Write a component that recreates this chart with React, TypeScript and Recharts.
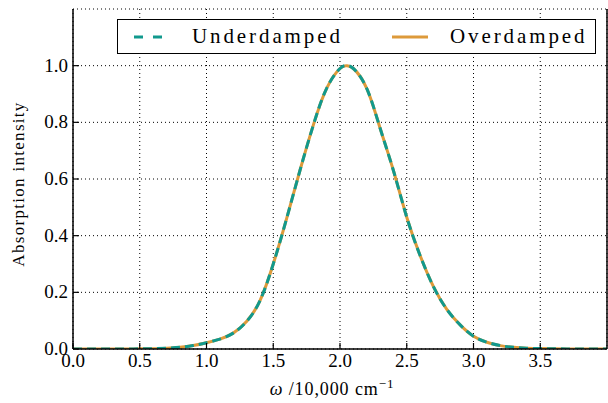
import React from 'react';
import { LineChart, Line, XAxis, YAxis, CartesianGrid } from 'recharts';

// omega in units of 10,000 cm^-1
const omega = [
  0, 0.1, 0.2, 0.3, 0.4, 0.5, 0.6, 0.7, 0.8, 0.9, 1.0, 1.1, 1.2, 1.3, 1.4, 1.5,
  1.6, 1.7, 1.8, 1.9, 2.0, 2.05, 2.1, 2.2, 2.3, 2.4, 2.5, 2.6, 2.7, 2.8, 2.9,
  3.0, 3.1, 3.2, 3.3, 3.4, 3.5, 3.6, 3.7, 3.8, 3.9, 4.0,
];
const underdamped = [
  0, 0, 0, 0, 0, 0.0005, 0.001, 0.003, 0.006, 0.012, 0.022, 0.035, 0.056, 0.097,
  0.17, 0.3, 0.46, 0.63, 0.79, 0.92, 0.99, 1.0, 0.99, 0.92, 0.78, 0.63, 0.465,
  0.33, 0.22, 0.14, 0.085, 0.045, 0.024, 0.012, 0.006, 0.003, 0.0015, 0.0007,
  0.0003, 0.0001, 0, 0,
];
const overdamped = [
  0, 0, 0, 0, 0, 0.0005, 0.001, 0.003, 0.006, 0.012, 0.022, 0.035, 0.056, 0.097,
  0.17, 0.3, 0.46, 0.63, 0.79, 0.92, 0.99, 1.0, 0.99, 0.92, 0.78, 0.63, 0.465,
  0.33, 0.22, 0.14, 0.085, 0.045, 0.024, 0.012, 0.006, 0.003, 0.0015, 0.0007,
  0.0003, 0.0001, 0, 0,
];
const xTicks = [0, 0.5, 1.0, 1.5, 2.0, 2.5, 3.0, 3.5];
const yTicks = [0, 0.2, 0.4, 0.6, 0.8, 1.0];

const TEAL = '#11998d';
const ORANGE = '#dd9a3a';
const FONT = 'Liberation Serif, DejaVu Serif, serif';

const series = [
  { key: 'under', name: 'Underdamped', color: TEAL, dash: true },
  { key: 'over', name: 'Overdamped', color: ORANGE, dash: false },
];

const data = omega.map((w, i) => ({ w, under: underdamped[i], over: overdamped[i] }));

const BottomTick = (props: any) => {
  const { x, y, payload } = props;
  return (
    <g>
      <line x1={x} x2={x} y1={y} y2={y - 6} stroke="#000" strokeWidth={1.2} />
      <text x={x} y={y + 18} textAnchor="middle" fontFamily={FONT} fontSize={19} fill="#000">
        {payload.value.toFixed(1)}
      </text>
    </g>
  );
};

const TopTick = (props: any) => {
  const { x, y } = props;
  return <line x1={x} x2={x} y1={y} y2={y + 6} stroke="#000" strokeWidth={1.2} />;
};

const LeftTick = (props: any) => {
  const { x, y, payload } = props;
  return (
    <g>
      <line x1={x} x2={x + 6} y1={y} y2={y} stroke="#000" strokeWidth={1.2} />
      <text x={x - 5} y={y + 6} textAnchor="end" fontFamily={FONT} fontSize={19} fill="#000">
        {payload.value.toFixed(1)}
      </text>
    </g>
  );
};

const RightTick = (props: any) => {
  const { x, y } = props;
  return <line x1={x} x2={x - 6} y1={y} y2={y} stroke="#000" strokeWidth={1.2} />;
};

const XLabel = (props: any) => {
  const vb = props.viewBox || { x: 73, y: 349, width: 534 };
  const cx = vb.x + vb.width / 2 - 8;
  return (
    <text x={cx} y={vb.y + 46} textAnchor="middle" fontFamily={FONT} fontSize={18} fill="#000" letterSpacing={0.9}>
      <tspan fontStyle="italic">ω</tspan>
      <tspan> /10,000 cm</tspan>
      <tspan dy={-7} fontSize={13}>−1</tspan>
    </text>
  );
};

const YLabel = () => {
  const cx = 18;
  const cy = 184;
  return (
    <text
      x={cx}
      y={cy}
      transform={`rotate(-90 ${cx} ${cy})`}
      textAnchor="middle"
      dominantBaseline="central"
      fontFamily={FONT}
      fontSize={17}
      fill="#000"
      letterSpacing={1.3}
    >
      Absorption intensity
    </text>
  );
};

export default function App() {
  return (
    <div style={{ position: 'absolute', left: 0, top: 0, width: 608, height: 403, background: '#fff' }}>
      <LineChart width={608} height={403} data={data} margin={{ top: 9, right: 0, bottom: 0, left: 0 }}>
        <CartesianGrid stroke="#000" strokeWidth={1} strokeDasharray="1 3" />
        <XAxis
          dataKey="w"
          type="number"
          domain={[0, 4]}
          ticks={xTicks}
          allowDataOverflow
          height={54}
          tickSize={0}
          tickMargin={0}
          tickLine={false}
          tick={<BottomTick />}
          axisLine={{ stroke: '#000', strokeWidth: 1.5 }}
          label={<XLabel />}
        />
        <XAxis
          xAxisId="top"
          orientation="top"
          dataKey="w"
          type="number"
          domain={[0, 4]}
          ticks={xTicks}
          allowDataOverflow
          height={0}
          tickSize={0}
          tickMargin={0}
          tickLine={false}
          tick={<TopTick />}
          axisLine={{ stroke: '#000', strokeWidth: 1.5 }}
        />
        <YAxis
          type="number"
          domain={[0, 1.2]}
          ticks={yTicks}
          allowDataOverflow
          width={73}
          tickSize={0}
          tickMargin={0}
          tickLine={false}
          tick={<LeftTick />}
          axisLine={{ stroke: '#000', strokeWidth: 1.5 }}
          label={<YLabel />}
        />
        <YAxis
          yAxisId="right"
          orientation="right"
          type="number"
          domain={[0, 1.2]}
          ticks={yTicks}
          width={1}
          tickSize={0}
          tickMargin={0}
          tickLine={false}
          tick={<RightTick />}
          axisLine={{ stroke: '#000', strokeWidth: 1.5 }}
        />
        <Line
          type="natural"
          dataKey="over"
          name="Overdamped"
          stroke={ORANGE}
          strokeWidth={3}
          dot={false}
          isAnimationActive={false}
        />
        <Line
          type="natural"
          dataKey="under"
          name="Underdamped"
          stroke={TEAL}
          strokeWidth={3}
          strokeDasharray="9 5"
          dot={false}
          isAnimationActive={false}
        />
      </LineChart>
      {/* legend */}
      <div
        style={{
          position: 'absolute',
          left: 117,
          top: 19,
          width: 477,
          height: 33,
          border: '1.5px solid #000',
          background: '#fff',
          fontFamily: FONT,
          fontSize: 21,
          letterSpacing: 2.9,
          color: '#000',
        }}
      >
        {series.map((s, i) => {
          const left = i === 0 ? 16 : 274;
          return (
            <React.Fragment key={s.key}>
              <svg style={{ position: 'absolute', left, top: 14 }} width={38} height={6}>
                <line
                  x1={0}
                  x2={36}
                  y1={3}
                  y2={3}
                  stroke={s.color}
                  strokeWidth={3}
                  strokeDasharray={s.dash ? '9 10' : undefined}
                />
              </svg>
              <span style={{ position: 'absolute', left: left + 58, top: 3, lineHeight: '26px', whiteSpace: 'nowrap' }}>
                {s.name}
              </span>
            </React.Fragment>
          );
        })}
      </div>
    </div>
  );
}
